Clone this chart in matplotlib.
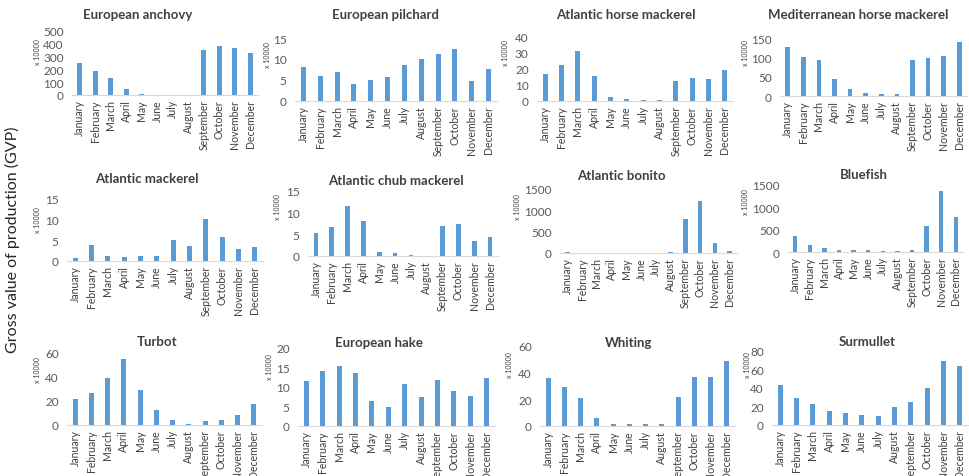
import numpy as np
import matplotlib
matplotlib.use("Agg")
import matplotlib.pyplot as plt

plt.rcParams['font.family'] = ['Lato', 'DejaVu Sans']

months = ['January', 'February', 'March', 'April', 'May', 'June', 'July',
          'August', 'September', 'October', 'November', 'December']

# monthly gross value of production, in units of 10000
european_anchovy = [250, 185, 130, 45, 8, 0, 0, 0, 355, 385, 370, 325]
european_pilchard = [8.2, 6.0, 6.8, 4.1, 5.1, 5.7, 8.5, 10.1, 11.2, 12.5, 4.8, 7.6]
atlantic_horse_mackerel = [17, 22.5, 31.5, 15.5, 2.2, 1.3, 0.8, 0.8, 12.5, 14.5, 13.5, 19.5]
mediterranean_horse_mackerel = [128, 102, 92, 45, 18, 9, 5, 5, 94, 99, 104, 140]
atlantic_mackerel = [0.7, 3.8, 1.2, 0.9, 1.2, 1.2, 5.2, 3.7, 10.2, 5.9, 2.8, 3.5]
atlantic_chub_mackerel = [5.4, 6.7, 11.5, 8.1, 1.0, 0.7, 0.3, 0, 6.9, 7.5, 3.4, 4.3]
atlantic_bonito = [15, 0, 0, 0, 0, 0, 0, 15, 800, 1230, 230, 50]
bluefish = [360, 150, 90, 45, 45, 35, 15, 15, 45, 580, 1370, 790]
turbot = [21, 26, 39, 54, 28.5, 12, 4, 1, 3.5, 4.5, 8, 17.5]
european_hake = [11.5, 14, 15.5, 13.7, 6.4, 4.9, 10.8, 7.5, 11.8, 9.1, 7.8, 12.3]
whiting = [36, 29, 21, 6, 1.2, 1.2, 1.8, 1.8, 22, 36.5, 36.5, 49]
surmullet = [43, 29.5, 23, 15.5, 13.5, 10.5, 9.5, 19.5, 24.5, 40.5, 69, 64]

titles = ['European anchovy', 'European pilchard', 'Atlantic horse mackerel',
          'Mediterranean horse mackerel', 'Atlantic mackerel', 'Atlantic chub mackerel',
          'Atlantic bonito', 'Bluefish', 'Turbot', 'European hake', 'Whiting', 'Surmullet']
series = [european_anchovy, european_pilchard, atlantic_horse_mackerel,
          mediterranean_horse_mackerel, atlantic_mackerel, atlantic_chub_mackerel,
          atlantic_bonito, bluefish, turbot, european_hake, whiting, surmullet]
y_max = [500, 15, 40, 150, 15, 15, 1500, 1500, 60, 20, 60, 80]
y_step = [100, 5, 10, 50, 5, 5, 500, 500, 20, 5, 20, 20]

# panel boxes in pixels: x0, x1, y_top, y_bottom ; title (x, y) ; unit label (x, y)
W, H = 970, 477
boxes = [(72, 258, 32, 96), (295, 497, 39, 102), (537, 733, 38, 102), (780, 967, 39, 97),
         (67, 263, 200, 262), (308, 498, 192, 257), (560, 737, 190, 254), (788, 963, 186, 253),
         (67, 262, 353, 426), (298, 495, 349, 427), (540, 735, 347, 427), (772, 968, 352, 426)]
title_pos = [(138, 15), (385, 15), (626, 15), (858, 15),
             (147, 179), (396, 181), (621, 176), (864, 175),
             (157, 342), (379, 343), (629, 343), (867, 342)]
unit_pos = [(37, 52), (268, 55), (505, 53), (745, 53),
            (38, 220), (278, 207), (518, 207), (745, 202),
            (37, 370), (270, 367), (510, 365), (747, 365)]

bar_color = '#5B9BD5'
fig = plt.figure(figsize=(9.7, 4.77), dpi=100)
x = np.arange(len(months))

for i in range(12):
    x0, x1, yt, yb = boxes[i]
    ax = fig.add_axes([x0 / W, 1 - yb / H, (x1 - x0) / W, (yb - yt) / H])
    ax.bar(x, series[i], width=0.3, color=bar_color)
    ax.set_xlim(-0.5, 11.5)
    ax.set_ylim(0, y_max[i])
    ax.set_yticks(np.arange(0, y_max[i] + 1e-9, y_step[i]))
    ax.set_xticks(x)
    ax.set_xticklabels(months, rotation=90, fontsize=7.6, color='#404040')
    ax.tick_params(axis='y', labelsize=8.5, colors='#595959', length=0, pad=6)
    ax.tick_params(axis='x', length=0, pad=3)
    for side in ['top', 'right', 'left']:
        ax.spines[side].set_visible(False)
    ax.spines['bottom'].set_color('#D9D9D9')
    ax.spines['bottom'].set_linewidth(0.8)
    ax.patch.set_alpha(0)

    tx, ty = title_pos[i]
    fig.text(tx / W, 1 - ty / H, titles[i], ha='center', va='center',
             fontsize=9.5, fontweight='bold', color='#404040')
    ux, uy = unit_pos[i]
    fig.text(ux / W, 1 - uy / H, 'x 10000', ha='center', va='center',
             rotation=90, fontsize=5, color='#404040')

fig.text(12 / W, 1 - 240 / H, 'Gross value of production (GVP)', rotation=90,
         ha='center', va='center', fontsize=11.5, color='#262626')

fig.savefig('out.png', dpi=100, facecolor='white')
